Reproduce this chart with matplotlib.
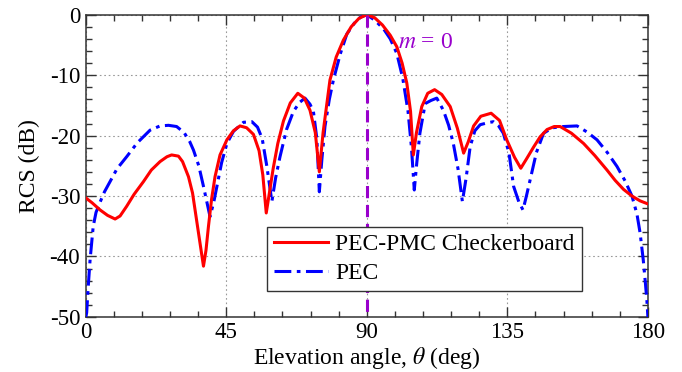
import matplotlib
matplotlib.use('Agg')
import matplotlib.pyplot as plt
from matplotlib.ticker import MultipleLocator

plt.rcParams['font.family'] = ['Liberation Serif', 'DejaVu Serif']
plt.rcParams['mathtext.fontset'] = 'stix'
plt.rcParams['axes.unicode_minus'] = False

# PEC-PMC checkerboard (red)
theta_cb = [0, 2, 4.6, 7, 9.4, 11, 13.1, 15.5, 18.5, 21, 23.8, 26, 27.5, 29.7, 31, 32.9,
            34.2, 35.5, 36.8, 37.7, 38.5, 39.3, 40.3, 41.4, 43, 45.2, 47.3, 49.4, 51.5, 53.7,
            55.5, 56.7, 57.8, 58.8, 60, 61.5, 63.3, 65.5, 67.9, 70, 71.8, 73.5, 74.8, 76,
            78.2, 80.2, 82.5, 85, 87.5, 90, 92.5, 95, 97.5, 99.6, 101.3, 102.8, 104, 104.9,
            105.9, 107.6, 109.5, 111.7, 114, 116.7, 119, 121, 122.5, 124.2, 126.5, 129.8,
            132.5, 134.8, 137.3, 139.3, 141.2, 143.4, 145.5, 147.7, 150, 151.9, 155.5, 159.4,
            163, 166.9, 169.5, 172.2, 174.9, 177.5, 180]
rcs_cb = [-30.3, -31.1, -32.3, -33.2, -33.8, -33.3, -31.7, -29.7, -27.6, -25.7, -24.3, -23.5, -23.2,
          -23.4, -24.3, -26.8, -29.5, -34.0, -38.5, -41.6, -39.0, -35.0, -30.5, -26.8, -23.2, -20.7,
          -19.2, -18.4, -18.7, -19.8, -22.5, -26.5, -32.8, -29.5, -25.5, -21.3, -17.6, -14.6, -13.0,
          -13.8, -15.8, -19.5, -26.0, -19.5, -10.8, -7.0, -4.2, -2.0, -0.6, 0.0, -0.5, -1.7, -3.4,
          -5.3, -8.0, -11.3, -16.0, -23.2, -19.5, -15.2, -13.0, -12.4, -13.2, -15.2, -18.8, -22.9,
          -21.0, -18.4, -16.8, -16.3, -17.5, -20.7, -23.6, -25.4, -23.8, -21.9, -20.2, -19.0, -18.5,
          -18.5, -19.6, -21.3, -23.3, -25.7, -27.4, -28.9, -30.0, -30.8, -31.3]

# PEC (blue)
theta_pec = [0, 0.3, 0.8, 1.4, 2.4, 3.3, 4.6, 6, 7.8, 10, 13.1, 16.5, 20.6, 23.8, 26.5, 29.1, 31.5,
             33.3, 34.5, 36.2, 37.7, 39.8, 41, 42, 43.5, 45.2, 47.3, 50.5, 53.2, 55, 56.5, 58,
             59.6, 60.8, 62.2, 64.3, 66.5, 68.5, 70.2, 71.8, 72.9, 74, 74.8, 75.6, 76.6, 78,
             79.3, 81.5, 83.6, 86, 88, 90, 92.5, 95.3, 97.5, 99.6, 101.5, 103.2, 104.3, 105.2,
             106, 107, 108.7, 110.5, 112.4, 114.5, 116.2, 117.7, 119.2, 120.6, 121.8, 123.1,
             124.6, 126.3, 128.5, 130.5, 132.2, 133.7, 135.5, 137, 138.7, 140, 141.1, 142.3,
             144.3, 146.6, 149.5, 153, 157.3, 160.5, 163.7, 167, 170.1, 172.7, 174.9, 176.5,
             177.5, 178.5, 179.2, 179.7, 180]
rcs_pec = [-50.0, -49.3, -45.0, -40.5, -35.0, -32.7, -31.0, -29.3, -27.6, -25.5, -23.5, -21.2,
           -19.1, -18.4, -18.3, -18.5, -19.5, -21.0, -22.4, -25.0, -28.4, -33.4, -31.0, -28.4,
           -24.5, -21.3, -19.3, -17.8, -17.7, -18.6, -20.5, -25.1, -30.9, -27.0, -23.5, -19.0,
           -16.0, -14.5, -13.8, -14.8, -16.0, -20.5, -29.3, -24.0, -18.5, -14.0, -10.8, -6.5,
           -3.2, -1.4, -0.4, 0.0, -0.9, -2.3, -4.0, -6.4, -10.5, -16.0, -22.0, -29.0, -24.5,
           -19.6, -14.7, -14.2, -13.8, -15.8, -18.3, -21.3, -25.5, -30.9, -27.0, -21.8, -19.2,
           -18.2, -17.9, -17.7, -18.4, -19.6, -22.8, -28.4, -31.0, -32.3, -30.0, -27.3, -22.8,
           -19.6, -18.7, -18.5, -18.4, -19.4, -20.7, -22.8, -25.1, -27.5, -30.0, -33.0, -36.1,
           -40.5, -44.4, -47.5, -50.0]

fig = plt.figure(figsize=(6.82, 3.72), dpi=100)
ax = fig.add_axes([0.1257, 0.148, 0.8243, 0.8125])

ax.plot(theta_cb, rcs_cb, color='#ff0000', lw=2.2, label='PEC-PMC Checkerboard', zorder=4)
ax.plot(theta_pec, rcs_pec, color='#0000ff', lw=2.2, dashes=(5.5, 1.8, 1.2, 1.8),
        label='PEC', zorder=3)
ax.plot([90, 90], [0, -50], color='#9900cc', lw=2.2, dashes=(4, 2.2), zorder=5)
ax.text(100, -5.5, '$m$ = 0', color='#9900cc', fontsize=17, ha='left', va='baseline')

ax.set_xlim(0, 180)
ax.set_ylim(-50, 0)
ax.xaxis.set_major_locator(MultipleLocator(45))
ax.xaxis.set_minor_locator(MultipleLocator(9))
ax.yaxis.set_major_locator(MultipleLocator(10))
ax.yaxis.set_minor_locator(MultipleLocator(2))
ax.tick_params(which='both', direction='in', top=True, right=True, labelsize=16.5,
               color='#333333', width=1.0)
ax.tick_params(which='major', length=7, pad=4)
ax.tick_params(which='minor', length=4)
ax.grid(True, which='major', color='#999999', linestyle=(0, (1.5, 2.5)), linewidth=0.8)
for s in ax.spines.values():
    s.set_color('#333333')
    s.set_linewidth(1.1)

ax.set_xlabel('Elevation angle, $\\theta$ (deg)', fontsize=17, labelpad=1)
ax.set_ylabel('RCS (dB)', fontsize=17, labelpad=7)

leg = ax.legend(loc='lower left', bbox_to_anchor=(0.3226, 0.086), fontsize=17,
                fancybox=False, edgecolor='#333333', framealpha=1, handlelength=2.3,
                handletextpad=0.28, borderpad=0.3, labelspacing=0.3, borderaxespad=0)
leg.get_frame().set_linewidth(1.0)

fig.savefig('out.png', dpi=100)
